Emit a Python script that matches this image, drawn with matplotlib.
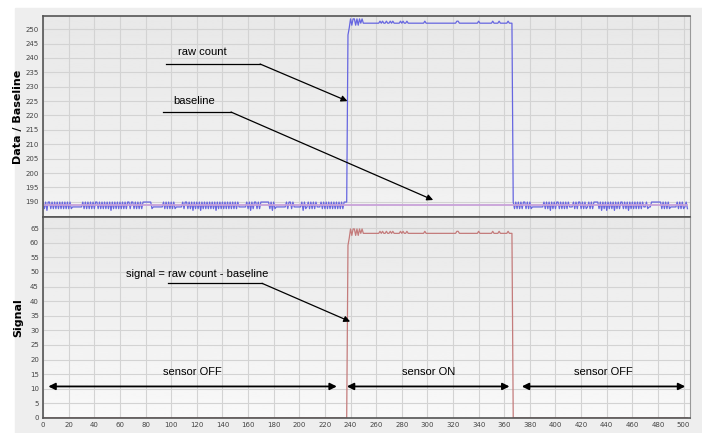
import matplotlib.pyplot as plt
import numpy as np

# raw count levels, one char per x unit
# h/m/l/d = high, flat, low, deep dip (sensor off); p/u/U/v on the plateau
off_levels = {'h': 189.9, 'm': 188.2, 'l': 187.6, 'd': 187.0}
on_levels = {'p': 252.1, 'u': 252.8, 'U': 253.6, 'v': 251.4}

off1 = ("hlhdhhlhlhl" "hlhlhlhlhlhl" "mmmmmmmm"
        "hlhlhlhlhlhhlhlhlhlhlhdhlhlhlhlhlhlh" "hlhhlhlhlhlh" "hhhhhh"
        "lmmmmmmmm" "hlhlhlhlhl" "mmmmm" "hlhhlh"
        "lhdhlhlhdhlhlhlhlhlhdhlhlhlhlhlhlhlhlh" "mmmmmm" "hlhdhlhhlhlhh"
        "hhhhh" "lhdhlm" "mmmmmmm" "hlhhlh" "mmmmmm" "hdhlm" "hlhlhlh"
        "mmm" "hlhlhlhlhlhlhlhlhlhhh")
rise = [248.0, 250.5]
plateau = ("UvUUvUvUpUpppp" "ppppppppp" "upup" "pup" "pupu" "ppppp" "upup"
           "pupp" "ppppppppppp" "up" "ppppppppppppppppppppppp" "uupp"
           "ppppppppppppp" "u" "pppppppppp" "up" "pppu" "pppppp" "uppp")
off2 = ("hlhlhlhlhhlhlhlm" "mmmmmmmm" "hlhlhdhlhlhhlhlhlhlh" "mmm" "hlhlhh"
        "lhlhlmhlhlh" "hhh" "lhdhlhdhlhlhdhlhlhhlhlhdhlhlhlhlhlh"
        "mmhlmm" "hhhhhhhh" "lhlhlhl" "mmmmm" "hlhlhl" "mhl")
baseline_value = 188.9

raw = ([off_levels[c] for c in off1] + rise + [on_levels[c] for c in plateau]
       + [off_levels[c] for c in off2])
raw = np.array(raw)
x = np.arange(len(raw))
baseline = np.full(len(raw), baseline_value)
signal = raw - baseline
signal[signal < 5] = 0

top_ticks = np.arange(190, 251, 5)
bot_ticks = np.arange(0, 66, 5)
x_ticks = np.arange(0, 501, 20)

fig = plt.figure(figsize=(7.02, 4.33), dpi=100, facecolor='white')
fig.add_artist(plt.Rectangle((15 / 702, 0), 1, 1 - 8 / 433, transform=fig.transFigure,
                             color='#eeeeee', zorder=-10))

left, right = 43.1 / 702, 690 / 702
ax1 = fig.add_axes([left, 1 - 217 / 433, right - left, (217 - 16) / 433])
ax2 = fig.add_axes([left, 1 - 418 / 433, right - left, (418 - 217) / 433], sharex=ax1)

for ax, c0, c1 in [(ax1, 0.91, 0.95), (ax2, 0.91, 0.975)]:
    grad = np.linspace(c1, c0, 100).reshape(-1, 1)
    ax.imshow(grad, extent=[0, 1, 0, 1], transform=ax.transAxes, aspect='auto',
              cmap='gray', vmin=0, vmax=1, zorder=0, origin='lower')
    ax.set_axisbelow(True)
    ax.grid(True, color='#d3d3d3', lw=0.8)
    ax.tick_params(length=0, labelsize=5, labelcolor='#444444', pad=3)
    for s in ['left', 'top', 'bottom']:
        ax.spines[s].set_color('#555555')
        ax.spines[s].set_linewidth(1.2)
    ax.spines['right'].set_color('#999999')

ax1.plot(x, raw, color='#6666e0', lw=0.9)
ax1.plot(x, baseline, color='#c9a2d9', lw=1.3)
ax2.plot(x, signal, color='#c47c7c', lw=0.9)

ax1.set_xlim(0, 505)
ax1.set_ylim(184.7, 254.6)
ax2.set_ylim(0, 68.8)
ax1.set_yticks(top_ticks)
ax2.set_yticks(bot_ticks)
ax2.set_xticks(x_ticks)
ax1.tick_params(labelbottom=False)

ax1.set_ylabel('Data / Baseline', fontsize=8, fontweight='bold')
ax2.set_ylabel('Signal', fontsize=8, fontweight='bold')
ax1.yaxis.set_label_coords(-0.031, 0.5)
ax2.yaxis.set_label_coords(-0.031, 0.5)

font = dict(family='Liberation Sans', fontsize=8, ha='center', va='center')
arrow = dict(arrowstyle='-|>', color='black', lw=0.9, mutation_scale=9, shrinkA=0, shrinkB=0)


def callout(ax, text, tx, ty, x0, x1, ly, tip):
    ax.text(tx, ty, text, **font)
    ax.plot([x0, x1], [ly, ly], color='black', lw=0.9)
    ax.annotate('', xy=tip, xytext=(x1, ly), arrowprops=arrow)


callout(ax1, 'raw count', 124, 242.1, 96, 169.4, 237.9, (237.6, 225.0))
callout(ax1, 'baseline', 118, 225.0, 93.6, 146.7, 221.2, (304.5, 190.6))
callout(ax2, 'signal = raw count - baseline', 120.3, 49.2, 97.5, 170.9, 46.1, (239.7, 33.0))

span = dict(arrowstyle='<|-|>', color='black', lw=1.3, mutation_scale=10, shrinkA=0, shrinkB=0)
for (a, b), label in [((4.1, 229.3), 'sensor OFF'), ((237.1, 364.1), 'sensor ON'),
                      ((373.7, 501.3), 'sensor OFF')]:
    ax2.annotate('', xy=(b, 10.8), xytext=(a, 10.8), arrowprops=span)
    ax2.text((a + b) / 2, 15.8, label, **font)

fig.savefig('out.png', dpi=100)
